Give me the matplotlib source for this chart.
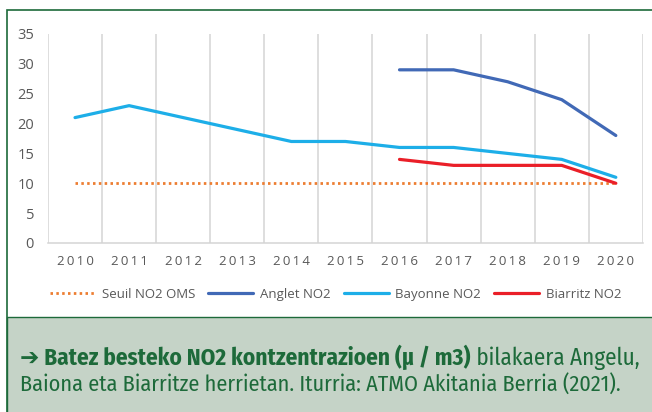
import matplotlib.pyplot as plt
from matplotlib.patches import Rectangle
import matplotlib.font_manager as fm

years = [2010, 2011, 2012, 2013, 2014, 2015, 2016, 2017, 2018, 2019, 2020]
seuil = [10, 10, 10, 10, 10, 10, 10, 10, 10, 10, 10]
anglet_years = [2016, 2017, 2018, 2019, 2020]
anglet = [29, 29, 27, 24, 18]
bayonne = [21, 23, 21, 19, 17, 17, 16, 16, 15, 14, 11]
biarritz_years = [2016, 2017, 2018, 2019, 2020]
biarritz = [14, 13, 13, 13, 10]

caption_bold = "\u2794 Batez besteko NO2 kontzentrazioen (\u00b5 / m3)"
caption_rest = " bilakaera Angelu,"
caption_line2 = "Baiona eta Biarritze herrietan. Iturria: ATMO Akitania Berria (2021)."

GREEN = "#1d6a3a"
GREY = "#595959"

names = {f.name for f in fm.fontManager.ttflist}
base_font = "Open Sans" if "Open Sans" in names else "DejaVu Sans"
cap_font = "Fira Sans Condensed" if "Fira Sans Condensed" in names else base_font
plt.rcParams['font.family'] = [base_font, 'DejaVu Sans']

fig = plt.figure(figsize=(6.52, 4.12), dpi=100)

# frame and caption band
fig.patches.append(Rectangle((0.0107, -0.01), 1.0, 0.9857, transform=fig.transFigure,
                             facecolor="white", edgecolor=GREEN, lw=1.2, zorder=-2))
fig.patches.append(Rectangle((0.0107, -0.01), 1.0, 0.2406, transform=fig.transFigure,
                             facecolor="#c5d3c7", edgecolor=GREEN, lw=1.0, zorder=-1))

ax = fig.add_axes([0.0736, 0.4102, 0.9124, 0.5073])
ax.set_facecolor("none")
idx = list(range(len(years)))
pos = {y: i for i, y in enumerate(years)}

ax.plot(idx, seuil, color="#ED7D31", lw=2.0, linestyle=(0, (0.9, 1.2)),
        label="Seuil NO2 OMS")
ax.plot([pos[y] for y in anglet_years], anglet, color="#4169B6", lw=2.3,
        label="Anglet NO2", solid_capstyle="round")
ax.plot(idx, bayonne, color="#1DAEE8", lw=2.3, label="Bayonne NO2",
        solid_capstyle="round")
ax.plot([pos[y] for y in biarritz_years], biarritz, color="#EA1F28", lw=2.3,
        label="Biarritz NO2", solid_capstyle="round")

ax.set_xlim(-0.5, len(years) - 0.5)
ax.set_ylim(0, 35)
ax.set_yticks(range(0, 36, 5))
ax.set_xticks(idx)
ax.set_xticklabels(["\u2009".join(str(y)) for y in years])
ax.set_xticks([i - 0.5 for i in range(len(years) + 1)], minor=True)
ax.grid(True, which="minor", axis="x", color="#d4d4d4", lw=1.1)
ax.tick_params(axis="both", which="both", length=0, colors=GREY)
ax.tick_params(axis="x", pad=9, labelsize=9.5)
ax.tick_params(axis="y", pad=10, labelsize=10.5)
for s in ["top", "left", "right"]:
    ax.spines[s].set_visible(False)
ax.spines["bottom"].set_color("#d4d4d4")
ax.spines["bottom"].set_linewidth(1.1)

fig.legend(loc="center", bbox_to_anchor=(0.515, 0.286), ncol=4, frameon=False,
           handlelength=3.4, columnspacing=1.0, handletextpad=0.5,
           prop={"size": 9.5}, labelcolor=GREY)

# caption, sized so the lines span the band like the reference
cap_family = [cap_font, "DejaVu Sans"]
size = 14
t1 = fig.text(0.031, 0.115, caption_bold, fontsize=size, fontweight="bold",
              color=GREEN, family=cap_family, va="baseline")
t2 = fig.text(0.5, 0.115, caption_rest, fontsize=size, color=GREEN,
              family=cap_family, va="baseline")
t3 = fig.text(0.031, 0.052, caption_line2, fontsize=size, color=GREEN,
              family=cap_family, va="baseline")
r = fig.canvas.get_renderer()
width = t1.get_window_extent(r).width + t2.get_window_extent(r).width
size1 = size * 620 / width
t1.set_fontsize(size1)
t2.set_fontsize(size1)
t2.set_x(t1.get_window_extent(r).x1 / fig.bbox.width)
t3.set_fontsize(size * 602 / t3.get_window_extent(r).width)

fig.savefig("out.png", dpi=100)
